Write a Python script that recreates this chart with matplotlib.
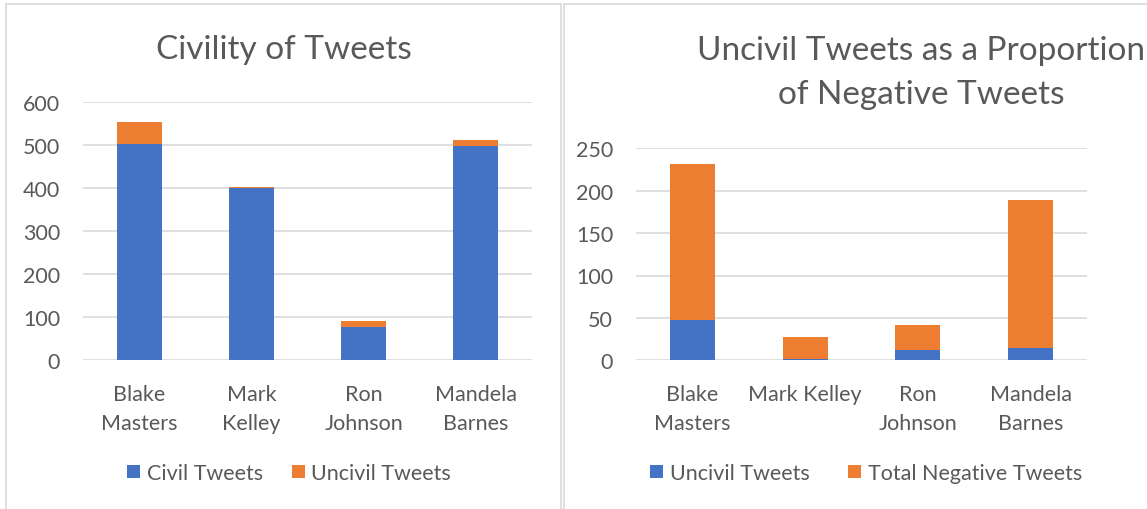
import matplotlib
matplotlib.use("Agg")
import matplotlib.pyplot as plt
from matplotlib.patches import Rectangle
import numpy as np

plt.rcParams['font.family'] = ['Lato', 'DejaVu Sans']

# Data
left_categories = ["Blake\nMasters", "Mark\nKelley", "Ron\nJohnson", "Mandela\nBarnes"]
civil_tweets = [504, 400, 78, 498]
uncivil_tweets_left = [50, 4, 13, 15]

right_categories = ["Blake\nMasters", "Mark Kelley", "Ron\nJohnson", "Mandela\nBarnes"]
uncivil_tweets_right = [47, 2, 12, 14]
total_negative_tweets = [184, 25, 30, 175]

left_ticks = [0, 100, 200, 300, 400, 500, 600]
right_ticks = [0, 50, 100, 150, 200, 250]

BLUE = "#4472C4"
ORANGE = "#ED7D31"
GRID = "#D9D9D9"
TXT = "#595959"

W, H = 1147, 510
fig = plt.figure(figsize=(W / 100, H / 100), dpi=100)

def px_axes(x0, y_top, x1, y_bot):
    return fig.add_axes([x0 / W, 1 - y_bot / H, (x1 - x0) / W, (y_bot - y_top) / H])

# Panel borders
fig.patches.append(Rectangle((6 / W, 1 - 520 / H), (561 - 6) / W, (520 - 5) / H,
                             transform=fig.transFigure, fill=False, edgecolor=GRID, lw=1.2))
fig.patches.append(Rectangle((564 / W, 1 - 520 / H), (1160 - 564) / W, (520 - 5) / H,
                             transform=fig.transFigure, fill=False, edgecolor=GRID, lw=1.2))

def style(ax, ticks, ymax):
    ax.set_ylim(0, ymax)
    ax.set_xlim(-0.5, 3.5)
    ax.set_yticks(ticks)
    ax.yaxis.grid(True, color=GRID, lw=1.2)
    ax.set_axisbelow(True)
    for s in ax.spines.values():
        s.set_visible(False)
    ax.tick_params(axis='both', length=0, colors=TXT, labelsize=15.5)
    ax.tick_params(axis='y', pad=16.5)
    ax.tick_params(axis='x', pad=17)
    for lab in ax.get_xticklabels() + ax.get_yticklabels():
        lab.set_color(TXT)
        lab.set_linespacing(1.55)

legend_kw = dict(loc='center', ncol=2, frameon=False, fontsize=15.5, handlelength=0.6,
                 handleheight=0.6, handletextpad=0.3, labelcolor=TXT)

# Left chart
ax1 = px_axes(83, 103.3, 532, 361.3)
x = np.arange(len(left_categories))
ax1.bar(x, civil_tweets, width=0.4, color=BLUE, label="Civil Tweets")
ax1.bar(x, uncivil_tweets_left, bottom=civil_tweets, width=0.4, color=ORANGE, label="Uncivil Tweets")
ax1.set_xticks(x)
ax1.set_xticklabels(left_categories)
style(ax1, left_ticks, 600)
fig.text(284 / W, 1 - 50 / H, "Civility of Tweets", ha='center', va='center',
         fontsize=24, color=TXT)
fig.legend(*ax1.get_legend_handles_labels(), bbox_to_anchor=(289 / W, 1 - 474 / H),
           columnspacing=1.35, **legend_kw)

# Right chart
ax2 = px_axes(636, 149.3, 1087, 361.3)
x2 = np.arange(len(right_categories))
ax2.bar(x2, uncivil_tweets_right, width=0.4, color=BLUE, label="Uncivil Tweets")
ax2.bar(x2, total_negative_tweets, bottom=uncivil_tweets_right, width=0.4, color=ORANGE,
        label="Total Negative Tweets")
ax2.set_xticks(x2)
ax2.set_xticklabels(right_categories)
style(ax2, right_ticks, 250)
fig.text(921 / W, 1 - 73 / H, "Uncivil Tweets as a Proportion\nof Negative Tweets", ha='center',
         va='center', fontsize=24, color=TXT, linespacing=1.55)
fig.legend(*ax2.get_legend_handles_labels(), bbox_to_anchor=(866 / W, 1 - 474 / H),
           columnspacing=1.8, **legend_kw)

fig.savefig("out.png", dpi=100)
